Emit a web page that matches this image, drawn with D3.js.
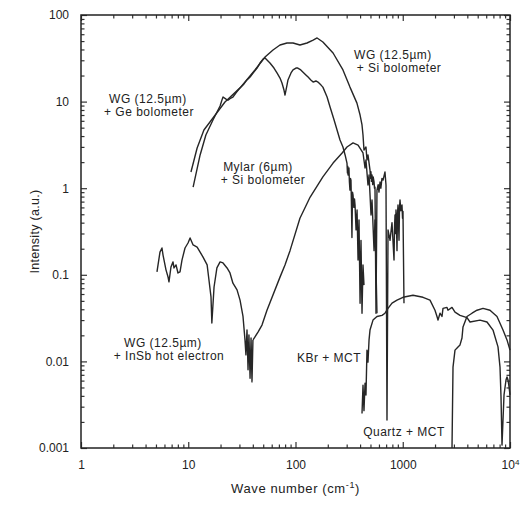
<!DOCTYPE html>
<html>
<head>
<meta charset="utf-8">
<script src="https://cdn.jsdelivr.net/npm/d3@7"></script>
<style>
  body { margin: 0; background: #fff; }
  text { font-family: 'Liberation Sans', Arial, sans-serif; fill: #222; }
</style>
</head>
<body>
<div id="chart"></div>
<script>
const margin = {
  top: 15,
  right: 15,
  bottom: 60,
  left: 81
}
const width = 525 - margin.left - margin.right
const height = 508 - margin.top - margin.bottom

// tick values and labels
const xTicks = [1, 10, 100, 1000, 10000]
const xTickLabels = ['1', '10', '100', '1000', '10^4']
const yTicks = [0.001, 0.01, 0.1, 1, 10, 100]
const yTickLabels = ['0.001', '0.01', '0.1', '1', '10', '100']

// spectra, [wave number (cm-1), intensity (a.u.)]
const wgSi = [
  [10.6, 1.54], [12.1, 2.91], [14.0, 4.70], [17.0, 6.47], [22.0, 9.9], [30.4, 14.4],
  [41.9, 23.2], [52.0, 32.7], [61.7, 39.4], [71.7, 45.0], [83.3, 47.5], [94.8, 47.5],
  [110, 45.0], [128, 47.5], [146, 51.4], [159, 54.3], [180, 48.8], [224, 36.4],
  [277, 23.2], [322, 14.7], [374, 9.6], [400, 7.0], [417, 5.37], [426, 4.11],
  [435, 2.76], [454, 2.99], [464, 2.12], [474, 2.42], [495, 1.62], [500, 1.3],
  [505, 1.55], [510, 1.2], [517, 1.42], [525, 1.1], [530, 1.35], [540, 1.18],
  [545, 1.0], [551, 1.03], [563, 0.036], [575, 0.95], [590, 1.1], [600, 0.9],
  [614, 1.18], [625, 1.0], [640, 1.3], [655, 1.24], [683, 1.54], [698, 1.09],
  [713, 0.0021], [729, 0.33], [761, 0.25], [794, 0.40], [829, 0.148], [838, 0.35],
  [847, 0.49], [855, 0.3], [865, 0.56], [875, 0.35], [884, 0.19], [893, 0.5],
  [903, 0.64], [913, 0.4], [923, 0.25], [933, 0.6], [943, 0.73], [960, 0.55],
  [984, 0.64], [995, 0.45], [1005, 0.54], [1027, 0.047]
]

const wgGe = [
  [11.1, 1.03], [12.9, 2.42], [14.6, 4.11], [17.0, 6.13], [19.8, 8.9], [20.6, 10.4],
  [21.1, 11.3], [22.5, 10.7], [23.5, 10.4], [25.0, 11.0], [26.1, 11.3], [27.9, 12.6],
  [30.4, 14.4], [33.1, 16.0], [35.3, 17.8], [37.7, 19.2], [40.2, 21.4], [43.8, 24.4],
  [46.7, 27.9], [49.8, 31.0], [52.0, 31.9], [57.8, 27.9], [63.0, 24.4], [67.2, 21.4],
  [71.7, 18.7], [74.8, 16.4], [78.1, 13.6], [79.8, 11.9], [83.3, 15.5], [85.1, 17.8],
  [90.8, 21.4], [94.8, 23.2], [101, 24.4], [105, 24.4], [112, 23.2], [117, 22.0],
  [125, 20.3], [131, 19.2], [139, 17.8], [146, 16.8], [155, 17.3], [162, 16.8],
  [173, 15.5], [180, 14.7], [197, 11.3], [210, 8.66], [229, 6.13], [244, 4.70],
  [260, 3.60], [277, 2.99], [290, 2.42], [302, 1.95], [305, 1.5], [307, 1.8],
  [309, 1.42], [312, 1.6], [315, 1.71], [318, 1.2], [322, 0.95], [325, 1.3],
  [329, 1.24], [332, 0.7], [336, 0.27], [340, 0.9], [344, 0.83], [350, 0.6],
  [355, 0.75], [359, 0.64], [367, 0.33], [375, 0.56], [383, 0.148], [391, 0.43],
  [400, 0.047], [408, 0.25], [417, 0.036], [426, 0.13], [435, 0.076]
]

const mylarSi = [
  [40.2, 0.0177], [44.7, 0.0218], [48.7, 0.0263], [54.2, 0.039], [71.7, 0.094],
  [79.8, 0.13], [88.9, 0.19], [110, 0.45], [137, 0.79], [180, 1.35], [224, 1.95],
  [272, 2.55], [302, 2.99], [344, 3.33], [383, 3.15], [426, 2.55], [445, 1.71],
  [454, 2.12], [474, 1.09], [485, 1.42], [506, 0.49], [517, 0.73], [540, 0.19],
  [551, 0.43], [575, 0.036]
]

const wgInSb = [
  [5.11, 0.108], [5.45, 0.183], [5.69, 0.204], [5.82, 0.169], [6.20, 0.114], [6.47, 0.095],
  [6.61, 0.083], [6.90, 0.123], [7.21, 0.141], [7.36, 0.120], [7.69, 0.130], [8.02, 0.105],
  [8.38, 0.108], [8.74, 0.148], [9.33, 0.204], [9.95, 0.233], [10.4, 0.266], [11.1, 0.221],
  [12.1, 0.209], [12.9, 0.183], [13.7, 0.161], [15.0, 0.130], [15.6, 0.087], [16.3, 0.0555],
  [16.6, 0.0277], [17.4, 0.0723], [18.5, 0.120], [19.8, 0.141], [21.1, 0.137], [23.0, 0.120],
  [24.5, 0.105], [26.1, 0.080], [28.5, 0.067], [30.4, 0.051], [32.4, 0.033], [33.8, 0.0177],
  [34.5, 0.0119], [35.3, 0.0231], [36.1, 0.0080], [36.8, 0.0202], [37.7, 0.0064],
  [38.5, 0.0186], [39.3, 0.0058], [40.1, 0.0177]
]

const kbrMct = [
  [417, 0.0025], [426, 0.0053], [435, 0.0027], [445, 0.0056], [454, 0.0041], [464, 0.0135],
  [474, 0.0098], [485, 0.0177], [495, 0.023], [528, 0.030], [575, 0.033], [641, 0.034],
  [683, 0.036], [729, 0.041], [794, 0.047], [884, 0.051], [1005, 0.055], [1246, 0.058],
  [1545, 0.055], [1795, 0.051], [1998, 0.039], [2086, 0.033], [2132, 0.030], [2225, 0.036],
  [2323, 0.033], [2373, 0.041], [2586, 0.042], [2642, 0.039], [2879, 0.042], [3070, 0.037],
  [3419, 0.034], [3972, 0.032], [4237, 0.0285], [5252, 0.030], [6103, 0.0285], [6942, 0.023],
  [7730, 0.0147], [8069, 0.0086], [8245, 0.0039], [8423, 0.00108], [8606, 0.0021],
  [8795, 0.0041], [9178, 0.0061], [9376, 0.0066], [9580, 0.0061], [9788, 0.0051],
  [10000, 0.0041]
]

const quartzMct = [
  [2879, 0.001], [2942, 0.0086], [3070, 0.0135], [3275, 0.0147], [3419, 0.0155],
  [3567, 0.0186], [3646, 0.025], [3972, 0.033], [4424, 0.036], [4924, 0.039],
  [5603, 0.041], [6509, 0.039], [7565, 0.033], [8606, 0.023], [9376, 0.0177],
  [10000, 0.0135]
]

const series = [wgSi, wgGe, mylarSi, wgInSb, kbrMct, quartzMct]

const xScale = d3.scaleLog()
  .domain([1, 10000])
  .range([0, width])

const yScale = d3.scaleLog()
  .domain([0.001, 100])
  .range([height, 0])

const svg = d3.select('#chart')
  .append('svg')
  .attr('width', width + margin.left + margin.right)
  .attr('height', height + margin.top + margin.bottom)

const plot = svg.append('g')
  .attr('transform', `translate(${margin.left}, ${margin.top})`)

const isDecade = (d) => Math.abs(Math.log10(d) - Math.round(Math.log10(d))) < 1e-6
const minorX = xScale.ticks().filter((d) => !isDecade(d))
const minorY = yScale.ticks().filter((d) => !isDecade(d))

// ticks on all four sides, pointing in
function drawAxis(axis, transform) {
  const g = plot.append('g')
    .attr('transform', transform)
    .call(axis)
  g.select('.domain').remove()
  g.selectAll('line').attr('stroke', '#333').attr('stroke-width', 1.2)
  return g
}

drawAxis(d3.axisBottom(xScale).tickValues(minorX).tickSize(-3.5).tickFormat(''), `translate(0, ${height})`)
drawAxis(d3.axisTop(xScale).tickValues(minorX).tickSize(-3.5).tickFormat(''), 'translate(0, 0)')
drawAxis(d3.axisTop(xScale).tickValues(xTicks).tickSize(-6).tickFormat(''), 'translate(0, 0)')
drawAxis(d3.axisLeft(yScale).tickValues(minorY).tickSize(-3.5).tickFormat(''), 'translate(0, 0)')
drawAxis(d3.axisRight(yScale).tickValues(minorY).tickSize(-3.5).tickFormat(''), `translate(${width}, 0)`)
drawAxis(d3.axisRight(yScale).tickValues(yTicks).tickSize(-6).tickFormat(''), `translate(${width}, 0)`)

const xAxis = drawAxis(d3.axisBottom(xScale)
  .tickValues(xTicks)
  .tickSize(-6)
  .tickPadding(12)
  .tickFormat((d, i) => xTickLabels[i]), `translate(0, ${height})`)

const yAxis = drawAxis(d3.axisLeft(yScale)
  .tickValues(yTicks)
  .tickSize(-6)
  .tickPadding(12)
  .tickFormat((d, i) => yTickLabels[i]), 'translate(0, 0)')

xAxis.selectAll('text')
  .attr('font-size', 12)
  .attr('font-family', "'Liberation Sans', Arial, sans-serif")
  .each(function () {
    const t = d3.select(this)
    const parts = t.text().split('^')
    if (parts.length === 2) {
      t.text(parts[0])
      t.append('tspan')
        .attr('dy', '-0.45em')
        .attr('font-size', 8)
        .text(parts[1])
    }
  })

yAxis.selectAll('text')
  .attr('font-size', 12)
  .attr('font-family', "'Liberation Sans', Arial, sans-serif")

plot.append('rect')
  .attr('width', width)
  .attr('height', height)
  .attr('fill', 'none')
  .attr('stroke', '#222')
  .attr('stroke-width', 1.5)

const line = d3.line()
  .x((d) => xScale(d[0]))
  .y((d) => yScale(d[1]))

plot.selectAll('.spectrum')
  .data(series)
  .enter()
  .append('path')
  .attr('class', 'spectrum')
  .attr('d', line)
  .attr('fill', 'none')
  .attr('stroke', '#262626')
  .attr('stroke-width', 1.4)
  .attr('stroke-linejoin', 'round')

// curve labels, [centre x, first baseline] in px inside the plot
const notes = [
  { lines: ['WG (12.5\u00b5m)', '+ Si bolometer'], x: [312, 318], y: 44 },
  { lines: ['WG (12.5\u00b5m)', '+ Ge bolometer'], x: [67, 68], y: 88 },
  { lines: ['Mylar (6\u00b5m)', '+ Si bolometer'], x: [177, 182], y: 156 },
  { lines: ['WG (12.5\u00b5m)', '+ InSb hot electron'], x: [82, 88], y: 332 },
  { lines: ['KBr + MCT'], x: [248], y: 347 },
  { lines: ['Quartz + MCT'], x: [323], y: 421 }
]

notes.forEach((n) => {
  n.lines.forEach((s, i) => {
    plot.append('text')
      .attr('x', n.x[i])
      .attr('y', n.y + i * 13)
      .attr('text-anchor', 'middle')
      .attr('font-size', 12)
      .attr('letter-spacing', 0.5)
      .text(s)
  })
})

// axis titles
const xTitle = svg.append('text')
  .attr('x', margin.left + width / 2)
  .attr('y', 493)
  .attr('text-anchor', 'middle')
  .attr('font-size', 13)
  .attr('letter-spacing', 0.6)
  .text('Wave number (cm')
xTitle.append('tspan')
  .attr('dy', -5)
  .attr('font-size', 9)
  .text('-1')
xTitle.append('tspan')
  .attr('dy', 5)
  .text(')')

svg.append('text')
  .attr('transform', `translate(39, ${margin.top + height / 2}) rotate(-90)`)
  .attr('text-anchor', 'middle')
  .attr('font-size', 12.5)
  .attr('letter-spacing', 0.3)
  .text('Intensity (a.u.)')
</script>
</body>
</html>
